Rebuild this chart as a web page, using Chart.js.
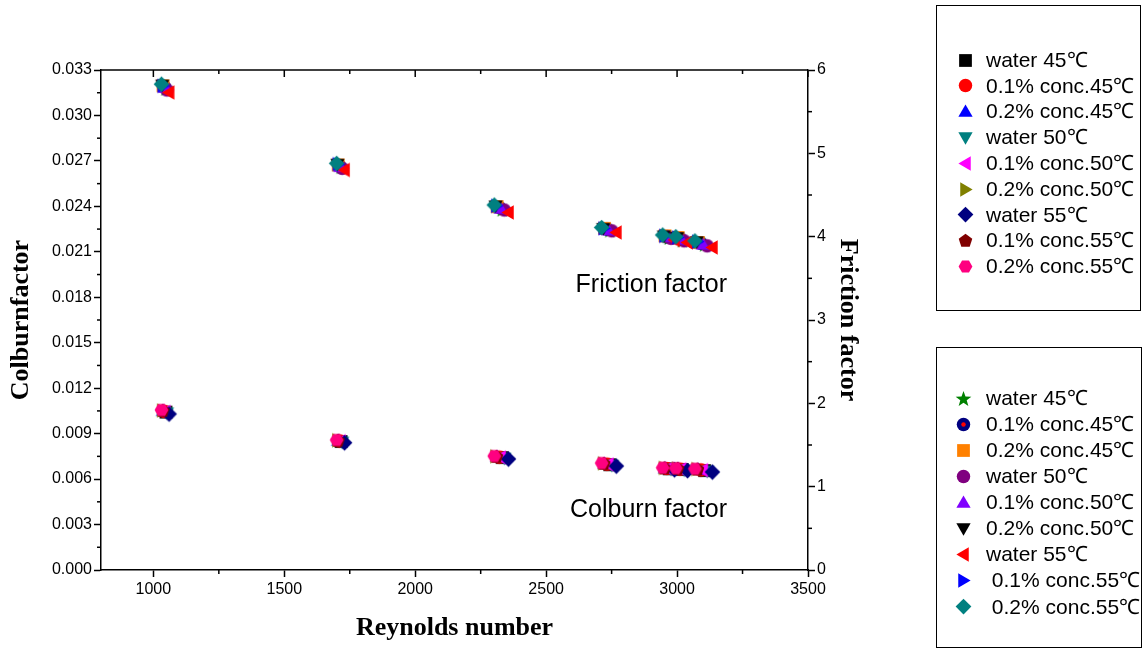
<!DOCTYPE html>
<html>
<head>
<meta charset="utf-8">
<title>Colburn factor and friction factor vs Reynolds number</title>
<script src="https://cdn.jsdelivr.net/npm/chart.js@4.4.1/dist/chart.umd.min.js"></script>
<style>
  html, body { margin: 0; padding: 0; background: #fff; }
  #wrap { width: 1146px; height: 649px; }
</style>
</head>
<body>
<div id="wrap"><canvas id="factorChart" width="1146" height="649"></canvas></div>
<script>
// series names (top legend = Colburn set, bottom legend = friction set)
const colburnLabels = ["water 45℃", "0.1% conc.45℃", "0.2% conc.45℃", "water 50℃", "0.1% conc.50℃",
  "0.2% conc.50℃", "water 55℃", "0.1% conc.55℃", "0.2% conc.55℃"];
const frictionLabels = ["water 45℃", "0.1% conc.45℃", "0.2% conc.45℃", "water 50℃", "0.1% conc.50℃",
  "0.2% conc.50℃", "water 55℃", " 0.1% conc.55℃", " 0.2% conc.55℃"];

// Reynolds number of each run, one row per series
const reynolds = [
  [1048, 1717, 2332, 2743, 2970, 3020, 3105],
  [1042, 1711, 2321, 2732, 2961, 3011, 3091],
  [1037, 1706, 2313, 2723, 2954, 3004, 3081],
  [1052, 1721, 2340, 2751, 2977, 3027, 3115],
  [1045, 1714, 2326, 2737, 2965, 3015, 3098],
  [1034, 1703, 2307, 2718, 2950, 3000, 3075],
  [1060, 1730, 2356, 2768, 2990, 3040, 3135],
  [1036, 1705, 2310, 2720, 2952, 3002, 3078],
  [1031, 1700, 2302, 2712, 2945, 2995, 3068]
];

// Colburn factor (left axis)
const colburn = [
  [0.01042, 0.00848, 0.00742, 0.00695, 0.00668, 0.00663, 0.00656],
  [0.01047, 0.00852, 0.00745, 0.00699, 0.00670, 0.00666, 0.00661],
  [0.01051, 0.00854, 0.00748, 0.00702, 0.00672, 0.00669, 0.00664],
  [0.01038, 0.00845, 0.00739, 0.00692, 0.00666, 0.00661, 0.00653],
  [0.01044, 0.00850, 0.00743, 0.00697, 0.00669, 0.00665, 0.00659],
  [0.01053, 0.00856, 0.00750, 0.00704, 0.00674, 0.00670, 0.00666],
  [0.01030, 0.00840, 0.00733, 0.00686, 0.00662, 0.00656, 0.00647],
  [0.01052, 0.00855, 0.00749, 0.00703, 0.00673, 0.00670, 0.00665],
  [0.01056, 0.00858, 0.00752, 0.00706, 0.00675, 0.00672, 0.00668]
];

// friction factor (right axis)
const friction = [
  [5.78, 4.84, 4.33, 4.08, 3.99, 3.96, 3.91],
  [5.80, 4.85, 4.35, 4.09, 4.00, 3.98, 3.92],
  [5.81, 4.86, 4.36, 4.10, 4.01, 3.99, 3.93],
  [5.76, 4.82, 4.32, 4.07, 3.98, 3.95, 3.89],
  [5.79, 4.84, 4.34, 4.08, 4.00, 3.97, 3.91],
  [5.82, 4.87, 4.37, 4.10, 4.01, 3.99, 3.94],
  [5.73, 4.80, 4.29, 4.05, 3.96, 3.93, 3.87],
  [5.81, 4.87, 4.37, 4.10, 4.01, 3.99, 3.94],
  [5.83, 4.88, 4.38, 4.11, 4.02, 4.00, 3.95]
];

const xTicks = [1000, 1500, 2000, 2500, 3000, 3500];
const colburnTicks = [0, 0.003, 0.006, 0.009, 0.012, 0.015, 0.018, 0.021, 0.024, 0.027, 0.030, 0.033];
const frictionTicks = [0, 1, 2, 3, 4, 5, 6];

// marker shape + colour for each series
const colburnMarkers = [["square", "#000000"], ["circle", "#FF0000"], ["up", "#0000FF"], ["down", "#008080"],
  ["left", "#FF00FF"], ["right", "#808000"], ["diamond", "#000080"], ["pentagon", "#800000"], ["hexagon", "#FF0080"]];
const frictionMarkers = [["star", "#008000"], ["dot", "#000080"], ["square", "#FF8000"], ["circle", "#800080"],
  ["up", "#8000FF"], ["down", "#000000"], ["left", "#FF0000"], ["right", "#0000FF"], ["diamond", "#008080"]];

// draws a filled marker on a small canvas, used as pointStyle
function makeMarker(shape, color, size) {
  const s = size + 4;
  const c = document.createElement("canvas");
  c.width = s; c.height = s;
  const g = c.getContext("2d");
  const m = s / 2, r = size / 2;
  g.fillStyle = color;
  const poly = (n, start, rad, dx, dy) => {
    g.beginPath();
    for (let k = 0; k < n; k++) {
      const a = start + k * 2 * Math.PI / n;
      g.lineTo(m + dx + rad * Math.cos(a), m + dy + rad * Math.sin(a));
    }
    g.closePath();
    g.fill();
  };
  switch (shape) {
    case "square": g.fillRect(m - r * 0.85, m - r * 0.85, r * 1.7, r * 1.7); break;
    case "circle": g.beginPath(); g.arc(m, m, r * 0.9, 0, 2 * Math.PI); g.fill(); break;
    case "dot":
      g.beginPath(); g.arc(m, m, r * 0.9, 0, 2 * Math.PI); g.fill();
      g.fillStyle = "#FF0000"; g.beginPath(); g.arc(m, m, r * 0.3, 0, 2 * Math.PI); g.fill();
      break;
    case "up": poly(3, -Math.PI / 2, r * 1.1, 0, r * 0.15); break;
    case "down": poly(3, Math.PI / 2, r * 1.1, 0, -r * 0.15); break;
    case "left": poly(3, Math.PI, r * 1.1, r * 0.15, 0); break;
    case "right": poly(3, 0, r * 1.1, -r * 0.15, 0); break;
    case "diamond": poly(4, 0, r * 1.05, 0, 0); break;
    case "pentagon": poly(5, -Math.PI / 2, r * 0.95, 0, r * 0.05); break;
    case "hexagon": poly(6, 0, r * 0.92, 0, 0); break;
    case "star":
      g.beginPath();
      for (let k = 0; k < 10; k++) {
        const a = -Math.PI / 2 + k * Math.PI / 5;
        const rad = k % 2 === 0 ? r * 1.1 : r * 0.45;
        g.lineTo(m + rad * Math.cos(a), m + r * 0.1 + rad * Math.sin(a));
      }
      g.closePath(); g.fill();
      break;
  }
  return c;
}

const toPoints = (xs, ys) => xs.map((x, i) => ({ x: x, y: ys[i] }));

const datasets = [];
colburnLabels.forEach((label, i) => {
  datasets.push({
    label: label,
    data: toPoints(reynolds[i], colburn[i]),
    yAxisID: "y",
    pointStyle: makeMarker(colburnMarkers[i][0], colburnMarkers[i][1], 15),
    pointRadius: 7,
    order: 20 - i,
    legendBox: 0
  });
});
frictionLabels.forEach((label, i) => {
  datasets.push({
    label: label,
    data: toPoints(reynolds[i], friction[i]),
    yAxisID: "y1",
    pointStyle: makeMarker(frictionMarkers[i][0], frictionMarkers[i][1], 15),
    pointRadius: 7,
    order: 10 - i,
    legendBox: 1
  });
});

// frame, minor ticks, in-plot captions and the two boxed legends
const extrasPlugin = {
  id: "extras",
  afterDraw(chart) {
    const { ctx, chartArea: a, scales } = chart;
    ctx.save();
    ctx.strokeStyle = "#000";
    ctx.lineWidth = 1.5;
    const seg = (x1, y1, x2, y2) => { ctx.beginPath(); ctx.moveTo(x1, y1); ctx.lineTo(x2, y2); ctx.stroke(); };

    seg(a.left, a.top, a.right, a.top);
    xTicks.forEach((v, i) => {
      const px = scales.x.getPixelForValue(v);
      seg(px, a.top, px, a.top + 7);
      if (i > 0) {
        const mx = scales.x.getPixelForValue((v + xTicks[i - 1]) / 2);
        seg(mx, a.top, mx, a.top + 4);
        seg(mx, a.bottom, mx, a.bottom + 4);
      }
    });
    colburnTicks.forEach((v, i) => {
      if (i === 0) return;
      const py = scales.y.getPixelForValue((v + colburnTicks[i - 1]) / 2);
      seg(a.left - 4, py, a.left, py);
    });
    frictionTicks.forEach((v, i) => {
      if (i === 0) return;
      const py = scales.y1.getPixelForValue((v + frictionTicks[i - 1]) / 2);
      seg(a.right, py, a.right + 4, py);
    });

    ctx.fillStyle = "#000";
    ctx.font = '25px "Liberation Sans", Arial, sans-serif';
    ctx.textAlign = "right";
    ctx.textBaseline = "middle";
    ctx.fillText("Friction factor", 727, 285);
    ctx.fillText("Colburn factor", 727, 510);

    ctx.lineWidth = 1;
    ctx.strokeRect(936.5, 5.5, 204, 305);
    ctx.strokeRect(936.5, 347.5, 205, 300);

    const boxes = [{ mx: 965, tx: 986, y0: 60, dy: 25.8 }, { mx: 963, tx: 986, y0: 398, dy: 26.1 }];
    const counters = [0, 0];
    ctx.font = '21px "Liberation Sans", Arial, sans-serif';
    ctx.textAlign = "left";
    chart.data.datasets.forEach(ds => {
      const b = boxes[ds.legendBox];
      const y = b.y0 + b.dy * counters[ds.legendBox]++;
      const img = ds.pointStyle;
      ctx.drawImage(img, Math.round(b.mx - img.width / 2), Math.round(y - img.height / 2));
      ctx.fillText(ds.label, b.tx, y + 1);
    });
    ctx.restore();
  }
};

Chart.defaults.font.family = '"Liberation Sans", Arial, sans-serif';
Chart.defaults.color = "#000";

const titleFont = { family: '"Liberation Serif", "Times New Roman", serif', size: 26, weight: "bold" };

new Chart(document.getElementById("factorChart"), {
  type: "scatter",
  data: { datasets: datasets },
  options: {
    responsive: false,
    animation: false,
    events: [],
    layout: { padding: { left: 0, top: 70, right: 279, bottom: 0 } },
    plugins: { legend: { display: false }, tooltip: { enabled: false } },
    scales: {
      x: {
        type: "linear",
        position: "bottom",
        min: 800,
        max: 3500,
        afterBuildTicks: s => { s.ticks = xTicks.map(v => ({ value: v })); },
        afterFit: s => { s.height = 79; },
        grid: { drawOnChartArea: false, tickLength: 7, tickColor: "#000", tickWidth: 1.5 },
        border: { display: true, color: "#000", width: 1.5 },
        ticks: { font: { size: 16 }, color: "#000", padding: 3, maxRotation: 0, callback: v => String(v) },
        title: { display: true, text: "Reynolds number", font: titleFont, color: "#000", padding: { top: 0, bottom: 5 } }
      },
      y: {
        type: "linear",
        position: "left",
        min: 0,
        max: 0.033,
        afterBuildTicks: s => { s.ticks = colburnTicks.map(v => ({ value: v })); },
        afterFit: s => { s.width = 101; },
        grid: { drawOnChartArea: false, tickLength: 7, tickColor: "#000", tickWidth: 1.5 },
        border: { display: true, color: "#000", width: 1.5 },
        ticks: { font: { size: 16 }, color: "#000", padding: 2, callback: v => v.toFixed(3) },
        title: { display: true, text: "Colburnfactor", font: titleFont, color: "#000", padding: { top: 6, bottom: 0 } }
      },
      y1: {
        type: "linear",
        position: "right",
        min: 0,
        max: 6,
        afterBuildTicks: s => { s.ticks = frictionTicks.map(v => ({ value: v })); },
        afterFit: s => { s.width = 59; },
        grid: { drawOnChartArea: false, tickLength: 7, tickColor: "#000", tickWidth: 1.5 },
        border: { display: true, color: "#000", width: 1.5 },
        ticks: { font: { size: 16 }, color: "#000", padding: 2, callback: v => String(v) },
        title: { display: true, text: "Friction factor", font: titleFont, color: "#000", padding: { top: 4, bottom: 0 } }
      }
    }
  },
  plugins: [extrasPlugin]
});
</script>
</body>
</html>
